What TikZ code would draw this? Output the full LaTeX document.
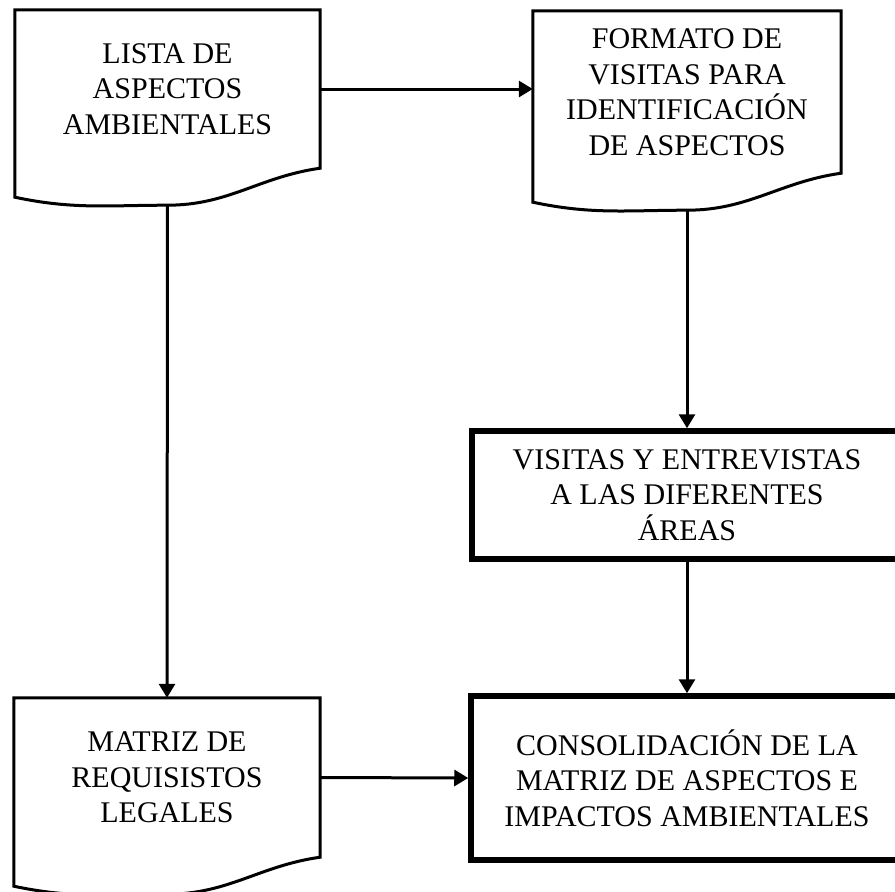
\documentclass[tikz,border=0pt]{standalone}
\usepackage{fontspec}
\setmainfont{Liberation Serif}
\usetikzlibrary{arrows.meta,positioning,calc}

\tikzset{
  contorno/.style={draw, line width=3pt, line join=miter},
  hoja/.style={align=center, minimum width=306pt, minimum height=159pt, inner sep=0pt},
  caja/.style={draw, line width=5.5pt, align=center, minimum width=430pt, inner sep=0pt},
  flecha/.style={line width=3pt, -{Triangle[length=14pt,width=16pt]}},
}
% borde de documento con el fondo ondulado
\newcommand{\hojaborde}[1]{%
  \draw[contorno] (#1.north west) -- (#1.north east) -- (#1.south east)
    to[out=188,in=0] ([yshift=-37pt]#1.south) coordinate (#1-fondo)
    to[out=180,in=-12] ([yshift=-29pt]#1.south west) -- cycle;}

\begin{document}
\begin{tikzpicture}[x=1pt, y=-1pt, every node/.style={font=\fontsize{30}{35.5}\selectfont}]
  \clip (0,0) rectangle (895,892);
  \fill[white] (0,0) rectangle (895,892);

  \node[hoja, minimum width=305pt, minimum height=158pt] (lista) at (167.5,89) {LISTA DE\\ASPECTOS\\AMBIENTALES};
  \node[hoja, minimum width=308pt, minimum height=162pt] (formato) at (687,92) {FORMATO DE\\VISITAS PARA\\IDENTIFICACIÓN\\DE ASPECTOS};
  \node[caja, minimum height=128pt] (visitas) at (687,495) {VISITAS Y ENTREVISTAS\\A LAS DIFERENTES\\ÁREAS};
  \node[hoja] (matriz) at (167,777.5) {MATRIZ DE\\REQUISISTOS\\LEGALES};
  \node[caja, minimum width=432pt, minimum height=164pt] (consol) at (687,778) {CONSOLIDACIÓN DE LA\\MATRIZ DE ASPECTOS E\\IMPACTOS AMBIENTALES};

  \hojaborde{lista}
  \hojaborde{formato}
  \hojaborde{matriz}

  \draw[flecha] (lista.east) -- (lista.east -| formato.west);
  \draw[flecha] (formato-fondo) -- (visitas.north);
  \draw[flecha] (visitas.south) -- (consol.north);
  \draw[flecha] (lista-fondo) -- (matriz.north);
  \draw[flecha] (matriz.east) -- (consol.west);
\end{tikzpicture}
\end{document}
